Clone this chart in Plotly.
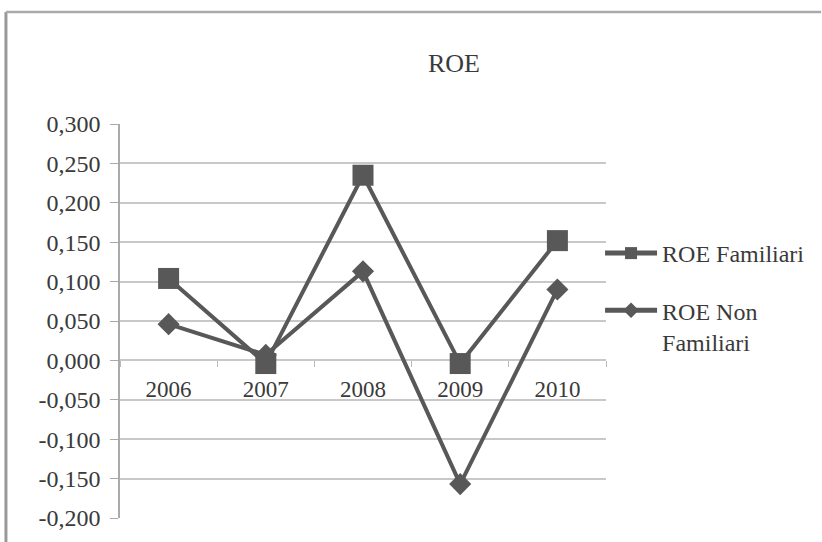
import plotly.graph_objects as go

years = ["2006", "2007", "2008", "2009", "2010"]
roe_familiari = [0.104, -0.004, 0.235, -0.004, 0.152]
roe_non_familiari = [0.046, 0.007, 0.113, -0.157, 0.090]
y_ticks = [0.3, 0.25, 0.2, 0.15, 0.1, 0.05, 0.0, -0.05, -0.1, -0.15, -0.2]
y_labels = ["0,300", "0,250", "0,200", "0,150", "0,100", "0,050", "0,000",
            "-0,050", "-0,100", "-0,150", "-0,200"]

W, H = 822, 542
ml, mr, mt, mb = 120, 212, 124, 24
ph = H - mt - mb
pw = W - ml - mr
y_min, y_max = -0.2, 0.3
zero_pos = (0 - y_min) / (y_max - y_min)

col = "#585858"
txt = "#3a3a3a"
font = "Liberation Serif"

fig = go.Figure()
fig.add_trace(go.Scatter(
    x=years, y=roe_familiari, name="ROE Familiari", mode="lines+markers",
    legendgroup="a",
    line=dict(color=col, width=4),
    marker=dict(symbol="square", size=21, color=col),
))
fig.add_trace(go.Scatter(
    x=years, y=roe_non_familiari, name="ROE Non<br>Familiari", mode="lines+markers",
    legendgroup="b",
    line=dict(color=col, width=4),
    marker=dict(symbol="diamond", size=17, color=col),
))

fig.update_layout(
    width=W, height=H,
    margin=dict(l=ml, r=mr, t=mt, b=mb),
    paper_bgcolor="white", plot_bgcolor="white",
    font=dict(family=font, size=23, color=txt),
    title=dict(text="ROE", x=454 / W, xanchor="center", y=1 - 63 / H, yanchor="middle",
               font=dict(family=font, size=26, color=txt)),
    showlegend=True,
    legend=dict(x=(604 - ml) / pw, xanchor="left", y=(H - mb - 231) / ph, yanchor="top",
                bgcolor="rgba(0,0,0,0)", font=dict(family=font, size=24, color=txt),
                tracegroupgap=23, itemwidth=52, valign="top", itemsizing="constant"),
    xaxis=dict(
        type="category", range=[-0.5, 4.5], anchor="free", position=zero_pos,
        showgrid=False, showline=False, zeroline=False,
        ticks="outside", tickson="boundaries", ticklen=6, tickcolor="#bbbbbb",
        ticklabelstandoff=13,
        tickfont=dict(family=font, size=23, color=txt),
    ),
    yaxis=dict(
        range=[y_min, y_max], tickvals=y_ticks, ticktext=y_labels,
        showgrid=True, gridcolor="#c8c8c8", gridwidth=2,
        zeroline=False, showline=True, linecolor="#aaaaaa", linewidth=1.5,
        ticks="outside", ticklen=8, tickcolor="#aaaaaa",
        ticklabelstandoff=5,
        tickfont=dict(family=font, size=24, color=txt),
    ),
)

# outer frame (left and top edges)
x_left = (5 - ml) / pw
y_top = (H - mb - 12) / ph
fig.add_shape(type="line", xref="paper", yref="paper", x0=x_left, x1=x_left, y0=y_top, y1=-0.1,
              line=dict(color="#999999", width=3))
fig.add_shape(type="line", xref="paper", yref="paper", x0=x_left, x1=(W - ml) / pw + 0.01, y0=y_top, y1=y_top,
              line=dict(color="#aaaaaa", width=2.5))

fig.write_html("out.html")
